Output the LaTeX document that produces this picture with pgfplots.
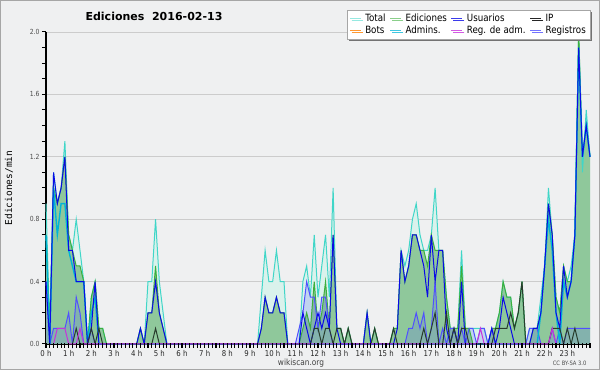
\documentclass[border=0pt]{standalone}
\usepackage{pgfplots}
\pgfplotsset{compat=1.18}
\usepackage{fontspec}
\setmainfont{DejaVu Sans}[FakeStretch=0.87]
\newfontfamily\titlefont{DejaVu Sans}
\newfontfamily\ylabfont{DejaVu Sans Mono}
\usetikzlibrary{shadows}
\definecolor{bg}{RGB}{239,240,241}
\definecolor{cTotal}{RGB}{64,214,200}
\definecolor{cTotalFill}{RGB}{218,242,236}
\definecolor{cEd}{RGB}{60,175,60}
\definecolor{cEdFill}{RGB}{143,200,155}
\definecolor{cUs}{RGB}{10,10,230}
\definecolor{cIP}{RGB}{40,60,45}
\definecolor{cBots}{RGB}{255,153,51}
\definecolor{cAdm}{RGB}{0,180,215}
\definecolor{cRegAdm}{RGB}{200,50,220}
\definecolor{cReg}{RGB}{80,80,255}
\begin{document}
\begin{tikzpicture}
\fill[bg] (0pt,0pt) rectangle (600pt,370pt);
\draw[black!35, line width=1pt] (0.5pt,0.5pt) rectangle (599.5pt,369.5pt);
\begin{axis}[
  at={(46pt,26pt)}, anchor=south west,
  scale only axis, width=544pt, height=312pt,
  xmin=0, xmax=144, ymin=0, ymax=2,
  clip=false,
  axis x line*=bottom, axis y line*=left,
  axis line style={black, line width=1.2pt},
  xtick={0,6,...,138},
  xticklabels={0 h,1 h,2 h,3 h,4 h,5 h,6 h,7 h,8 h,9 h,10 h,11 h,12 h,13 h,14 h,15 h,16 h,17 h,18 h,19 h,20 h,21 h,22 h,23 h},
  ytick={0,0.4,0.8,1.2,1.6,2.0},
  minor ytick={0.1,0.2,0.3,0.5,0.6,0.7,0.9,1.0,1.1,1.3,1.4,1.5,1.7,1.8,1.9},
  /pgf/number format/assume math mode=true,
  yticklabel style={/pgf/number format/fixed, /pgf/number format/fixed zerofill, /pgf/number format/precision=1, font=\fontsize{7}{8}\selectfont, text=black!70, xshift=1pt},
  xticklabel style={font=\fontsize{8}{9}\selectfont, text=black!85, yshift=1pt},
  ymajorgrids, grid style={black!20, line width=0.8pt},
  xtick align=outside, ytick align=outside,
  xtick style={draw=none},
  major tick length=4pt, minor tick length=4pt,
  ytick style={black, line width=1pt},
  every minor tick/.style={black, line width=1pt},
  legend columns=4,
  legend cell align=left,
  legend style={at={(1.0,1.0705)}, anchor=north east, draw=black!35, fill=white,
    font=\fontsize{10}{10}\selectfont, column sep=2pt, row sep=-1.5pt, inner sep=2pt,
    drop shadow={shadow xshift=2pt, shadow yshift=-2pt, fill=black!55, opacity=1}},
]
% Total fill
\addplot[draw=none, fill=cTotalFill, forget plot] coordinates {
(0,0.9)(1,0.1)(2,1.1)(3,0.9)(4,1.0)(5,1.3)(6,0.7)(7,0.6)(8,0.8)(9,0.6)(10,0.4)(11,0)(12,0.3)(13,0.4)(14,0.1)(15,0.1)(16,0)
(24,0)(25,0.1)(26,0)(27,0.4)(28,0.4)(29,0.8)(30,0.4)(31,0.2)(32,0)
(56,0)(57,0.3)(58,0.6)(59,0.4)(60,0.4)(61,0.6)(62,0.4)(63,0.4)(64,0)
(67,0)(68,0.4)(69,0.5)(70,0.3)(71,0.7)(72,0.3)(73,0.5)(74,0.7)(75,0.3)(76,1.0)(77,0.1)(78,0.1)(79,0)(80,0.1)(81,0)
(84,0)(85,0.2)(86,0)(87,0.1)(88,0)
(91,0)(92,0.1)(93,0.1)(94,0.6)(95,0.5)(96,0.6)(97,0.8)(98,0.9)(99,0.7)(100,0.6)(101,0.6)(102,0.7)(103,1.0)(104,0.6)(105,0.6)(106,0.3)(107,0.1)(108,0.1)(109,0.1)(110,0.6)(111,0.1)(112,0.1)(113,0.1)(114,0.1)(115,0.1)(116,0.1)(117,0)(118,0.1)(119,0.1)(120,0.2)(121,0.4)(122,0.3)(123,0.3)(124,0.1)(125,0.2)(126,0.4)(127,0)(128,0.1)(129,0.1)(130,0.1)(131,0.3)(132,0.5)(133,1.0)(134,0.7)(135,0.3)(136,0.2)(137,0.5)(138,0.4)(139,0.5)(140,0.7)(141,2.0)(142,1.1)(143,1.5)(144,1.2)
} \closedcycle;
% Ediciones fill
\addplot[draw=none, fill=cEdFill, forget plot] coordinates {
(0,0.7)(1,0.1)(2,1.0)(3,0.9)(4,1.0)(5,1.2)(6,0.7)(7,0.6)(8,0.5)(9,0.5)(10,0.4)(11,0)(12,0.3)(13,0.4)(14,0.1)(15,0.1)(16,0)
(24,0)(25,0.1)(26,0)(27,0.2)(28,0.2)(29,0.5)(30,0.2)(31,0.1)(32,0)
(56,0)(57,0.1)(58,0.3)(59,0.2)(60,0.2)(61,0.3)(62,0.2)(63,0.2)(64,0)
(67,0)(68,0.1)(69,0.2)(70,0.1)(71,0.4)(72,0.1)(73,0.2)(74,0.4)(75,0.1)(76,0.7)(77,0.1)(78,0.1)(79,0)(80,0.1)(81,0)
(84,0)(85,0.2)(86,0)(87,0.1)(88,0)
(91,0)(92,0.1)(93,0.1)(94,0.6)(95,0.4)(96,0.5)(97,0.7)(98,0.7)(99,0.6)(100,0.6)(101,0.5)(102,0.7)(103,0.6)(104,0.6)(105,0.6)(106,0.3)(107,0.1)(108,0.1)(109,0.1)(110,0.5)(111,0.1)(112,0.1)(113,0)(117,0)(118,0.1)(119,0.1)(120,0.2)(121,0.4)(122,0.3)(123,0.3)(124,0.1)(125,0.2)(126,0.4)(127,0)(128,0)(129,0.1)(130,0.1)(131,0.2)(132,0.5)(133,0.9)(134,0.7)(135,0.3)(136,0.2)(137,0.5)(138,0.4)(139,0.4)(140,0.7)(141,2.0)(142,1.2)(143,1.4)(144,1.2)
} \closedcycle;
% Registros fill
\addplot[draw=none, fill=cReg, fill opacity=0.18, forget plot] coordinates {
(0,0.4)(1,0)(2,0.1)(3,0.1)(4,0.1)(5,0.1)(6,0.2)(7,0)(8,0.3)(9,0.2)(10,0)(11,0)(12,0.1)(13,0)
(66,0)(67,0.1)(68,0.2)(69,0.4)(70,0.3)(71,0.3)(72,0.1)(73,0.3)(74,0.3)(75,0.1)(76,0)
(95,0)(96,0.1)(97,0.1)(98,0.2)(99,0.1)(100,0.2)(101,0)(102,0.1)(103,0.4)(104,0)(105,0.1)(106,0)(107,0.1)(108,0.1)(109,0)(110,0.1)(111,0)(112,0.1)(113,0.1)(114,0)(115,0.1)(116,0.1)(117,0)(118,0.1)(119,0)
(127,0)(128,0.1)(129,0.1)(130,0.1)(131,0)(133,0)(134,0.1)(135,0)(136,0.1)(137,0)(138,0.1)(139,0.1)(140,0.1)(141,0.1)(142,0.1)(143,0.1)(144,0.1)
} \closedcycle;
% Total line
\addplot[cTotal, line width=1pt, forget plot] coordinates {
(0,0.9)(1,0.1)(2,1.1)(3,0.9)(4,1.0)(5,1.3)(6,0.7)(7,0.6)(8,0.8)(9,0.6)(10,0.4)(11,0)(12,0.3)(13,0.4)(14,0.1)(15,0.1)(16,0)
(24,0)(25,0.1)(26,0)(27,0.4)(28,0.4)(29,0.8)(30,0.4)(31,0.2)(32,0)
(56,0)(57,0.3)(58,0.6)(59,0.4)(60,0.4)(61,0.6)(62,0.4)(63,0.4)(64,0)
(67,0)(68,0.4)(69,0.5)(70,0.3)(71,0.7)(72,0.3)(73,0.5)(74,0.7)(75,0.3)(76,1.0)(77,0.1)(78,0.1)(79,0)(80,0.1)(81,0)
(84,0)(85,0.2)(86,0)(87,0.1)(88,0)
(91,0)(92,0.1)(93,0.1)(94,0.6)(95,0.5)(96,0.6)(97,0.8)(98,0.9)(99,0.7)(100,0.6)(101,0.6)(102,0.7)(103,1.0)(104,0.6)(105,0.6)(106,0.3)(107,0.1)(108,0.1)(109,0.1)(110,0.6)(111,0.1)(112,0.1)(113,0.1)(114,0.1)(115,0.1)(116,0.1)(117,0)(118,0.1)(119,0.1)(120,0.2)(121,0.4)(122,0.3)(123,0.3)(124,0.1)(125,0.2)(126,0.4)(127,0)(128,0.1)(129,0.1)(130,0.1)(131,0.3)(132,0.5)(133,1.0)(134,0.7)(135,0.3)(136,0.2)(137,0.5)(138,0.4)(139,0.5)(140,0.7)(141,2.0)(142,1.1)(143,1.5)(144,1.2)
};
% Ediciones line
\addplot[cEd, line width=1pt, forget plot] coordinates {
(0,0.7)(1,0.1)(2,1.0)(3,0.9)(4,1.0)(5,1.2)(6,0.7)(7,0.6)(8,0.5)(9,0.5)(10,0.4)(11,0)(12,0.3)(13,0.4)(14,0.1)(15,0.1)(16,0)
(24,0)(25,0.1)(26,0)(27,0.2)(28,0.2)(29,0.5)(30,0.2)(31,0.1)(32,0)
(56,0)(57,0.1)(58,0.3)(59,0.2)(60,0.2)(61,0.3)(62,0.2)(63,0.2)(64,0)
(67,0)(68,0.1)(69,0.2)(70,0.1)(71,0.4)(72,0.1)(73,0.2)(74,0.4)(75,0.1)(76,0.7)(77,0.1)(78,0.1)(79,0)(80,0.1)(81,0)
(84,0)(85,0.2)(86,0)(87,0.1)(88,0)
(91,0)(92,0.1)(93,0.1)(94,0.6)(95,0.4)(96,0.5)(97,0.7)(98,0.7)(99,0.6)(100,0.6)(101,0.5)(102,0.7)(103,0.6)(104,0.6)(105,0.6)(106,0.3)(107,0.1)(108,0.1)(109,0.1)(110,0.5)(111,0.1)(112,0.1)(113,0)(117,0)(118,0.1)(119,0.1)(120,0.2)(121,0.4)(122,0.3)(123,0.3)(124,0.1)(125,0.2)(126,0.4)(127,0)(128,0)(129,0.1)(130,0.1)(131,0.2)(132,0.5)(133,0.9)(134,0.7)(135,0.3)(136,0.2)(137,0.5)(138,0.4)(139,0.4)(140,0.7)(141,2.0)(142,1.2)(143,1.4)(144,1.2)
};
% Registros line
\addplot[cReg, line width=1pt, forget plot] coordinates {
(0,0.4)(1,0)(2,0.1)(3,0.1)(4,0.1)(5,0.1)(6,0.2)(7,0)(8,0.3)(9,0.2)(10,0)(11,0)(12,0.1)(13,0)
(66,0)(67,0.1)(68,0.2)(69,0.4)(70,0.3)(71,0.3)(72,0.1)(73,0.3)(74,0.3)(75,0.1)(76,0)
(95,0)(96,0.1)(97,0.1)(98,0.2)(99,0.1)(100,0.2)(101,0)(102,0.1)(103,0.4)(104,0)(105,0.1)(106,0)(107,0.1)(108,0.1)(109,0)(110,0.1)(111,0)(112,0.1)(113,0.1)(114,0)(115,0.1)(116,0.1)(117,0)(118,0.1)(119,0)
(127,0)(128,0.1)(129,0.1)(130,0.1)(131,0)(133,0)(134,0.1)(135,0)(136,0.1)(137,0)(138,0.1)(139,0.1)(140,0.1)(141,0.1)(142,0.1)(143,0.1)(144,0.1)
};
% Admins line
\addplot[cAdm, line width=1.4pt, forget plot] coordinates {
(0,0.7)(1,0)(2,1.0)(3,0.7)(4,0.9)(5,0.9)(6,0.6)(7,0.5)(8,0.4)(9,0.4)(10,0.4)(11,0)(12,0.2)(13,0.3)(14,0)
(130,0)(131,0.2)(132,0.5)(133,0.8)(134,0.6)(135,0.2)(136,0)(137,0.4)(138,0.3)(139,0.4)(140,0.7)(141,1.9)(142,1.2)(143,1.4)(144,1.2)
};
% Usuarios line
\addplot[cUs, line width=1pt, forget plot] coordinates {
(0,0.4)(1,0)(2,1.1)(3,0.9)(4,1.0)(5,1.2)(6,0.6)(7,0.6)(8,0.4)(9,0.4)(10,0.4)(11,0)(12,0.1)(13,0.4)(14,0)
(24,0)(25,0.1)(26,0)(27,0.2)(28,0.2)(29,0.4)(30,0.2)(31,0.1)(32,0)
(56,0)(57,0.1)(58,0.3)(59,0.2)(60,0.2)(61,0.3)(62,0.2)(63,0.2)(64,0)
(67,0)(68,0.2)(69,0.1)(70,0)(71,0.1)(72,0.2)(73,0.1)(74,0.2)(75,0.1)(76,0.7)(77,0.1)(78,0)
(84,0)(85,0.2)(86,0)
(92,0)(93,0.1)(94,0.6)(95,0.4)(96,0.5)(97,0.7)(98,0.7)(99,0.6)(100,0.5)(101,0.3)(102,0.7)(103,0.4)(104,0.6)(105,0.6)(106,0.1)(107,0)(108,0.1)(109,0)(110,0.4)(111,0)
(117,0)(118,0.1)(119,0)(120,0.1)(121,0.3)(122,0.2)(123,0.1)(124,0)
(128,0)(129,0.1)(130,0.1)(131,0.2)(132,0.5)(133,0.9)(134,0.7)(135,0.2)(136,0.1)(137,0.5)(138,0.3)(139,0.4)(140,0.7)(141,1.9)(142,1.2)(143,1.4)(144,1.2)
};
% IP line
\addplot[cIP, line width=1pt, forget plot] coordinates {
(7,0)(8,0.1)(9,0)(11,0)(12,0.1)(13,0)(14,0.1)(15,0)
(28,0)(29,0.1)(30,0)
(70,0)(71,0.1)(72,0.1)(73,0)(74,0.1)(75,0.1)(76,0)(77,0.1)(78,0.1)(79,0)(80,0.1)(81,0)
(86,0)(87,0.1)(88,0)
(91,0)(92,0.1)(93,0)
(99,0)(100,0.1)(101,0)(102,0.1)(103,0.2)(104,0)(105,0)(106,0.2)(107,0)(108,0.1)(109,0)(110,0.1)(111,0.1)(112,0)
(118,0)(119,0.1)(120,0.1)(121,0.1)(122,0.1)(123,0.2)(124,0.1)(125,0.2)(126,0.4)(127,0)
(133,0)(134,0.1)(135,0.1)(136,0.1)(137,0)(138,0.1)(139,0)(140,0.1)(141,0)
};
% Reg. de adm. line
\addplot[cRegAdm, line width=1pt, forget plot] coordinates {
(2,0)(3,0.1)(4,0.1)(5,0.1)(6,0)(8,0)(9,0.1)(10,0)
(114,0)(115,0.1)(116,0)
(133,0)(134,0.1)(135,0)
};
% legend
\pgfplotsset{legend image code/.code={\draw[#1] (0pt,0pt) -- (11pt,0pt);}}
\addlegendimage{cTotal!55!white, line width=1pt}\addlegendentry{Total}
\addlegendimage{cEd!60!white, line width=1pt}\addlegendentry{Ediciones}
\addlegendimage{cUs!80!white, line width=1pt}\addlegendentry{Usuarios}
\addlegendimage{black!85, line width=1pt}\addlegendentry{IP}
\addlegendimage{cBots, line width=1pt}\addlegendentry{Bots}
\addlegendimage{cAdm!75!white, line width=1pt}\addlegendentry{Admins.}
\addlegendimage{cRegAdm!80!white, line width=1pt}\addlegendentry{Reg. de adm.}
\addlegendimage{cReg!80!white, line width=1pt}\addlegendentry{Registros}
\end{axis}
% x-axis tick comb (one tick per 10 minutes)
\draw[black, line width=1.1pt] foreach \i in {0,...,144} {({46pt+\i*3.77778pt},26.5pt) -- ++(0pt,-5pt)};
\node[font=\titlefont\bfseries\fontsize{11}{13}\selectfont] at (154pt,354pt) {Ediciones\ \ 2016-02-13};
\node[rotate=90, font=\ylabfont\fontsize{9.5}{11}\selectfont] at (9pt,182pt) {Ediciones/min};
\node[font=\fontsize{8.5}{10}\selectfont, text=black!75] at (301pt,6.5pt) {wikiscan.org};
\node[anchor=east, font=\fontsize{6}{7}\selectfont, text=black!70] at (590pt,6.5pt) {CC BY-SA 3.0};
\end{tikzpicture}
\end{document}
